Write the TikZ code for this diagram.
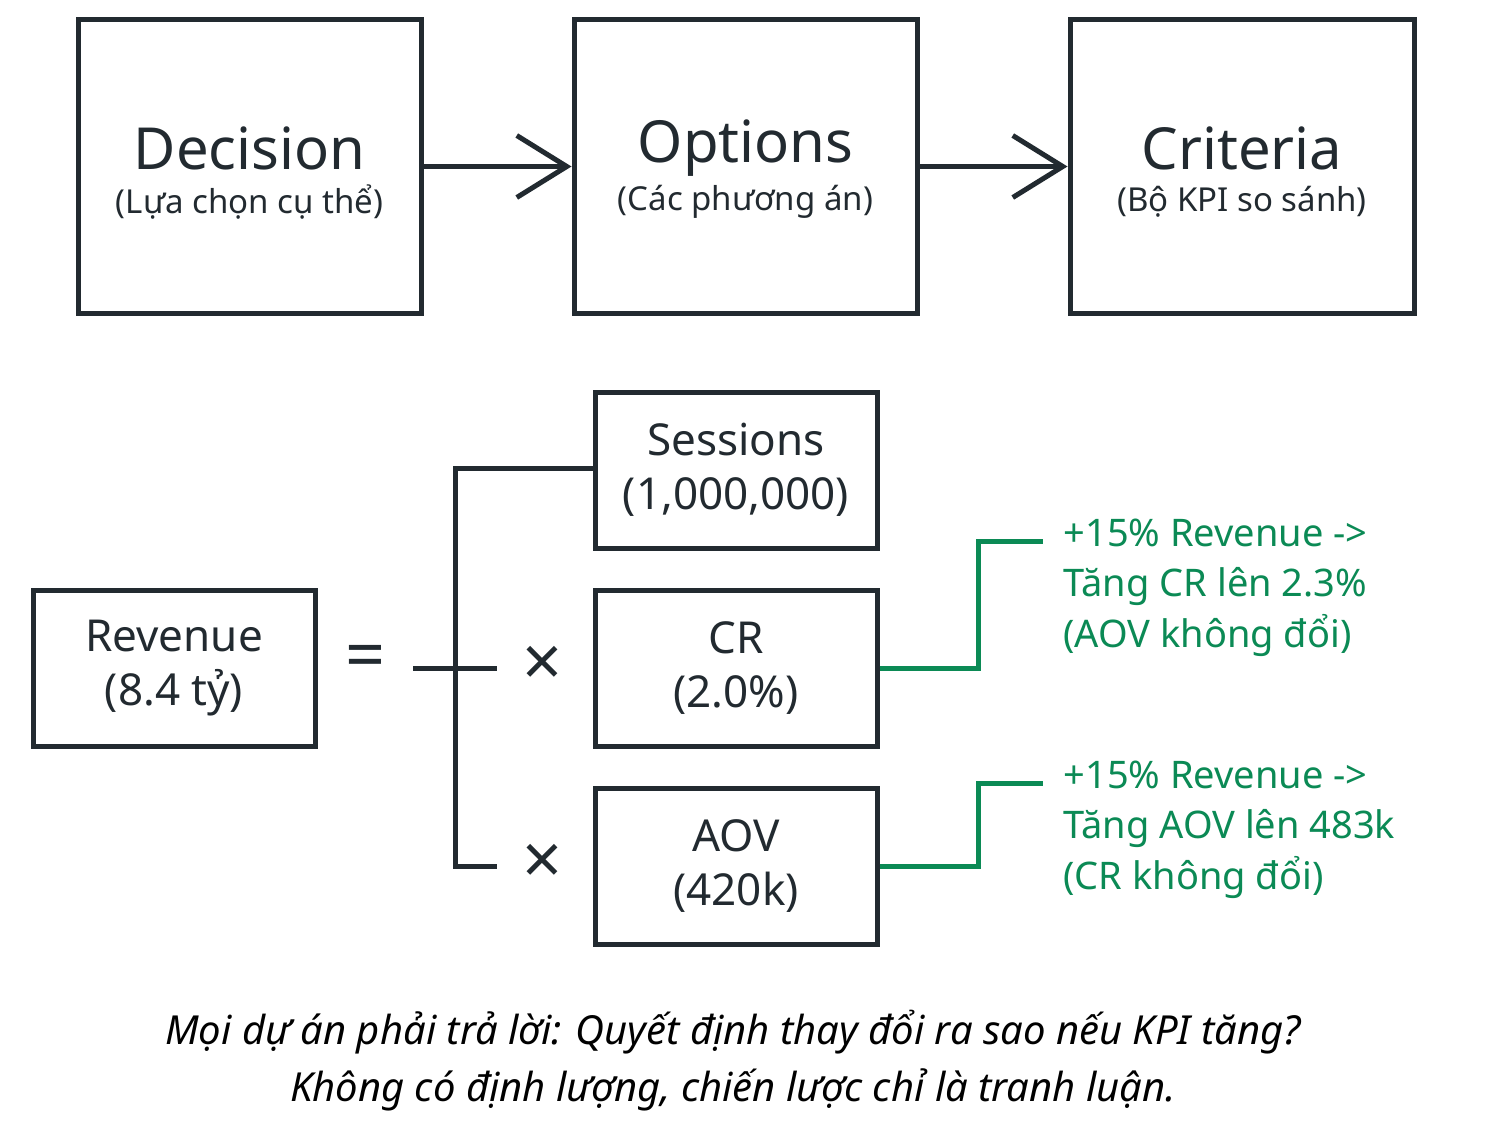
\documentclass[tikz,border=0pt]{standalone}
\usepackage{fontspec}
\setmainfont{Noto Sans}
\usetikzlibrary{arrows.meta}
\definecolor{ink}{HTML}{222A30}
\definecolor{grn}{HTML}{0B8A55}
\begin{document}
\begin{tikzpicture}[x=1pt,y=-1pt,
  box/.style={draw=ink,line width=5pt,inner sep=0pt},
  con/.style={draw=ink,line width=5pt},
  gcon/.style={draw=grn,line width=5pt},
  arr/.style={con,-{Straight Barb[length=50pt,width=62pt,line width=5pt]}},
  big/.style={text=ink,font=\fontsize{58}{64}\selectfont\bfseries},
  mid/.style={text=ink,font=\fontsize{44}{54}\selectfont\bfseries,align=center},
  sub/.style={text=ink,font=\fontsize{33}{40}\selectfont\bfseries},
  gt/.style={text=grn,font=\fontsize{38}{50.5}\selectfont\bfseries,align=left,anchor=north west}]
\useasboundingbox (0,0) rectangle (1488,1124);
\fill[white] (0,0) rectangle (1488,1124);
% top boxes
\node[box,minimum width=343pt,minimum height=293pt] (dec) at (249.5,166.5) {};
\node[box,minimum width=343pt,minimum height=293pt] (opt) at (745.5,166.5) {};
\node[box,minimum width=344pt,minimum height=293pt] (cri) at (1242,166.5) {};
\node[big] (t1) at (249.5,148) {Decision};
\node[sub] (s1) at (249.5,202) {(Lựa chọn cụ thể)};
\node[big] (t2) at (745.5,148) {Options};
\node[sub] (s2) at (745.5,202) {(Các phương án)};
\node[big] (t3) at (1242,148) {Criteria};
\node[sub] (s3) at (1242,202) {(Bộ KPI so sánh)};
\draw[arr] (dec.east) -- (opt.west);
\draw[arr] (opt.east) -- (cri.west);
% formula
\node[box,minimum width=282pt,minimum height=156pt,mid] (rev) at (174,668) {Revenue\\(8.4 tỷ)};
\node[box,minimum width=282pt,minimum height=156pt,mid] (ses) at (736,470) {Sessions\\(1,000,000)};
\node[box,minimum width=282pt,minimum height=156pt,mid] (cr) at (736,668) {CR\\(2.0\%)};
\node[box,minimum width=282pt,minimum height=156pt,mid] (aov) at (736,866) {AOV\\(420k)};
\node[text=ink,font=\fontsize{70}{70}\selectfont\bfseries] (eq) at (366,662) {=};
\node[text=ink,font=\fontsize{70}{70}\selectfont] (x1) at (543,666) {×};
\node[text=ink,font=\fontsize{70}{70}\selectfont] (x2) at (543,864) {×};
\coordinate (h1) at (413,668); \coordinate (h2) at (497,668);
\coordinate (vt) at (455,468); \coordinate (vb) at (455,866); \coordinate (b2) at (497,866);
\draw[con] (h1) -- (h2);
\draw[con] (ses.west |- vt) -- (vt) -- (vb) -- (b2);
% green
\coordinate (g1) at (1043,541); \coordinate (g2) at (1043,783);
\draw[gcon] (cr.east) -| (978,541) -- (g1);
\draw[gcon] (aov.east) -| (978,783) -- (g2);
\node[gt] (n1) at (1060,515) {+15\% Revenue ->\\Tăng CR lên 2.3\%\\(AOV không đổi)};
\node[gt] (n2) at (1060,757) {+15\% Revenue ->\\Tăng AOV lên 483k\\(CR không đổi)};
% bottom
\node[text=black,font=\fontsize{40}{57}\selectfont\itshape,align=center] (cap) at (733,1061)
 {Mọi dự án phải trả lời: Quyết định thay đổi ra sao nếu KPI tăng?\\Không có định lượng, chiến lược chỉ là tranh luận.};
\end{tikzpicture}
\end{document}
